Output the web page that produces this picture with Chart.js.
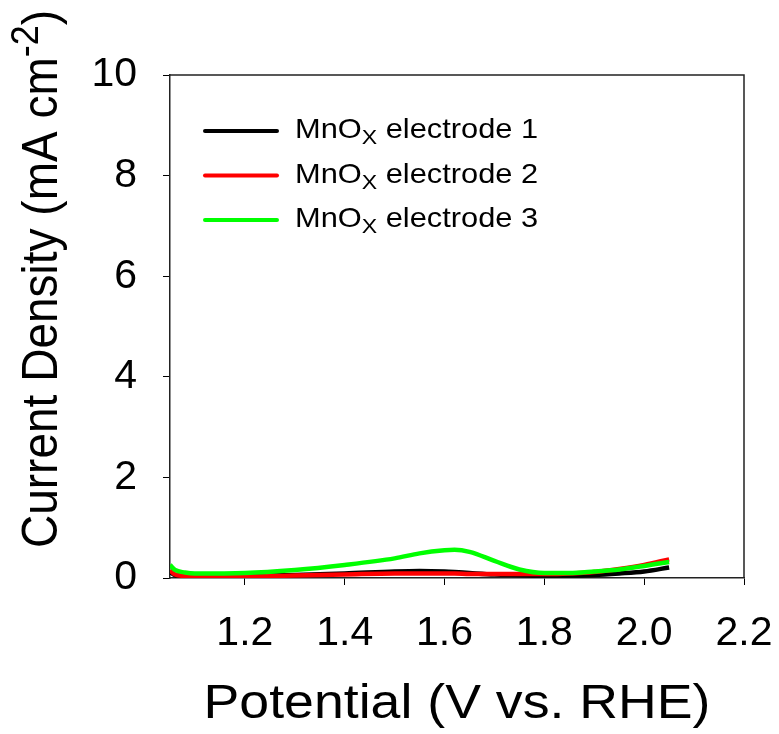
<!DOCTYPE html>
<html>
<head>
<meta charset="utf-8">
<script src="https://cdn.jsdelivr.net/npm/chart.js@4.4.1/dist/chart.umd.min.js"></script>
<style>
html, body { margin: 0; padding: 0; background: #fff; }
</style>
</head>
<body>
<canvas id="lsvChart" width="779" height="734"></canvas>
<script>
// values
const potential = [1.05, 1.06, 1.08, 1.10, 1.20, 1.30, 1.40, 1.50, 1.55, 1.60, 1.62, 1.65, 1.70, 1.75, 1.80, 1.85, 1.90, 1.95, 2.00, 2.05];
const electrode1 = [0.12, 0.06, 0.04, 0.03, 0.04, 0.06, 0.09, 0.13, 0.14, 0.13, 0.12, 0.10, 0.07, 0.06, 0.05, 0.05, 0.06, 0.09, 0.13, 0.21];
const electrode2 = [0.15, 0.07, 0.04, 0.03, 0.03, 0.05, 0.07, 0.09, 0.09, 0.09, 0.09, 0.08, 0.08, 0.08, 0.08, 0.09, 0.12, 0.18, 0.26, 0.37];
const electrode3 = [0.26, 0.16, 0.11, 0.09, 0.10, 0.16, 0.26, 0.39, 0.49, 0.55, 0.56, 0.52, 0.34, 0.17, 0.10, 0.10, 0.13, 0.17, 0.24, 0.32];
const seriesNames = ['MnO_X electrode 1', 'MnO_X electrode 2', 'MnO_X electrode 3'];
const xTicks = [1.2, 1.4, 1.6, 1.8, 2.0, 2.2];
const yTicks = [0, 2, 4, 6, 8, 10];
const xTitle = 'Potential (V vs. RHE)';
const yTitle = ['Current Density (mA cm', '-2', ')'];

const FONT = "'Liberation Sans', Arial, sans-serif";

function toPoints(ys) {
    return ys.map((y, i) => ({ x: potential[i], y: y }));
}

// frame, axis titles and the legend (subscripts / superscripts need manual text)
const decorations = {
    id: 'decorations',
    afterDraw(chart) {
        const ctx = chart.ctx;
        const a = chart.chartArea;

        ctx.save();
        ctx.strokeStyle = '#222';
        ctx.lineWidth = 1.5;
        ctx.beginPath();
        ctx.moveTo(a.left, a.top);
        ctx.lineTo(a.right, a.top);
        ctx.lineTo(a.right, a.bottom);
        ctx.stroke();
        ctx.restore();

        ctx.save();
        ctx.fillStyle = '#000';
        ctx.textBaseline = 'alphabetic';

        // x title
        ctx.save();
        ctx.translate((a.left + a.right) / 2, 718);
        ctx.scale(1.095, 1);
        ctx.font = '49px ' + FONT;
        ctx.textAlign = 'center';
        ctx.fillText(xTitle, 0, 0);
        ctx.restore();

        // y title, rotated
        ctx.save();
        ctx.translate(57, 548);
        ctx.scale(1.07, 1);
        ctx.rotate(-Math.PI / 2);
        ctx.textAlign = 'left';
        let tx = 0;
        ctx.font = '46px ' + FONT;
        ctx.fillText(yTitle[0], tx, 0);
        tx += ctx.measureText(yTitle[0]).width;
        ctx.font = '36px ' + FONT;
        ctx.fillText(yTitle[1], tx, -18);
        tx += ctx.measureText(yTitle[1]).width;
        ctx.font = '46px ' + FONT;
        ctx.fillText(yTitle[2], tx, 0);
        ctx.restore();

        // legend
        chart.data.datasets.forEach((ds, i) => {
            const ly = a.top + 56 + i * 44.5;
            ctx.save();
            ctx.strokeStyle = ds.borderColor;
            ctx.lineWidth = 4;
            ctx.lineCap = 'round';
            ctx.beginPath();
            ctx.moveTo(a.left + 35, ly);
            ctx.lineTo(a.left + 107, ly);
            ctx.stroke();
            ctx.restore();

            const parts = ds.label.split('_X');
            ctx.save();
            ctx.translate(a.left + 125, ly + 7);
            ctx.scale(1.1, 1);
            ctx.textAlign = 'left';
            let lx = 0;
            ctx.font = '28px ' + FONT;
            ctx.fillText(parts[0], lx, 0);
            lx += ctx.measureText(parts[0]).width;
            ctx.font = '21px ' + FONT;
            ctx.fillText('X', lx, 6);
            lx += ctx.measureText('X').width;
            ctx.font = '28px ' + FONT;
            ctx.fillText(parts[1], lx, 0);
            ctx.restore();
        });
        ctx.restore();
    }
};

const ctx = document.getElementById('lsvChart').getContext('2d');
new Chart(ctx, {
    type: 'line',
    data: {
        datasets: [
            { label: seriesNames[0], data: toPoints(electrode1), borderColor: '#000000', order: 3 },
            { label: seriesNames[1], data: toPoints(electrode2), borderColor: '#ff0000', order: 2 },
            { label: seriesNames[2], data: toPoints(electrode3), borderColor: '#00ff00', order: 1 }
        ]
    },
    options: {
        responsive: false,
        animation: false,
        layout: { padding: { top: 75, right: 35, left: 0, bottom: 0 } },
        plugins: {
            legend: { display: false },
            tooltip: { enabled: false }
        },
        elements: {
            point: { radius: 0 },
            line: { borderWidth: 4.5, fill: false, cubicInterpolationMode: 'monotone' }
        },
        scales: {
            x: {
                type: 'linear',
                min: 1.05,
                max: 2.2,
                afterBuildTicks: scale => { scale.ticks = xTicks.map(v => ({ value: v })); },
                afterFit: scale => {
                    scale.height = 156;
                    scale.paddingLeft = 0;
                    scale.paddingRight = 0;
                },
                grid: { drawOnChartArea: false, drawTicks: true, tickLength: 7, color: '#000', lineWidth: 1 },
                border: { display: true, color: '#222', width: 1.5 },
                ticks: {
                    color: '#000',
                    font: { family: FONT, size: 41 },
                    padding: 24,
                    maxRotation: 0,
                    autoSkip: false,
                    callback: v => v.toFixed(1)
                }
            },
            y: {
                type: 'linear',
                min: 0,
                max: 10,
                afterBuildTicks: scale => { scale.ticks = yTicks.map(v => ({ value: v })); },
                afterFit: scale => {
                    scale.width = 170;
                    scale.paddingTop = 0;
                    scale.paddingBottom = 0;
                },
                grid: { drawOnChartArea: false, drawTicks: true, tickLength: 7, color: '#000', lineWidth: 1 },
                border: { display: true, color: '#222', width: 1.5 },
                ticks: {
                    color: '#000',
                    font: { family: FONT, size: 41 },
                    padding: 26,
                    autoSkip: false,
                    callback: v => String(v)
                }
            }
        }
    },
    plugins: [decorations]
});
</script>
</body>
</html>
